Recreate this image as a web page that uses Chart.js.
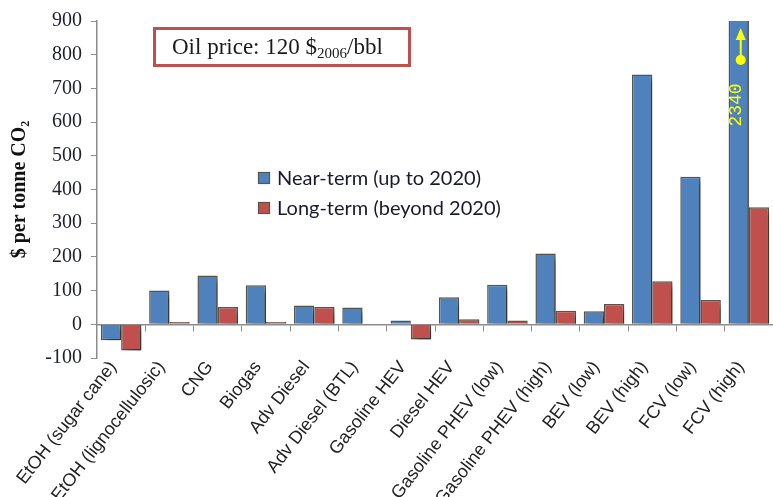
<!DOCTYPE html>
<html>
<head>
<meta charset="utf-8">
<script src="https://cdn.jsdelivr.net/npm/chart.js@4/dist/chart.umd.min.js"></script>
<style>
html,body{margin:0;padding:0;background:#fff;}
#wrap{position:relative;width:773px;height:497px;}
</style>
</head>
<body>
<div id="wrap"><canvas id="c" width="773" height="497"></canvas></div>
<script>
const categories = ["EtOH (sugar cane)","EtOH (lignocellulosic)","CNG","Biogas","Adv Diesel","Adv Diesel (BTL)","Gasoline HEV","Diesel HEV","Gasoline PHEV (low)","Gasoline PHEV (high)","BEV (low)","BEV (high)","FCV (low)","FCV (high)"];
const nearTerm = [-47,100,145,116,56,50,11,80,117,210,39,741,438,2340];
const longTerm = [-78,7,51,7,51,-2,-45,15,11,40,60,128,72,347];
const seriesNames = ["Near-term (up to 2020)","Long-term (beyond 2020)"];
const yTicks = [-100,0,100,200,300,400,500,600,700,800,900];
const annotationText = ["Oil price: 120 $","2006","/bbl"];
const offScaleLabel = "2340";
const offScaleIndex = 13;

const BLUE = '#4F81BD', RED = '#C0504D', EDGE = '#56554a', AXIS = '#8c8c8c';

const shadowPlugin = {
  id: 'shadow',
  beforeDatasetsDraw(chart){
    const ctx = chart.ctx; ctx.save();
    ctx.shadowColor = 'rgba(0,0,0,0.38)';
    ctx.shadowOffsetX = 5; ctx.shadowOffsetY = 4; ctx.shadowBlur = 5;
  },
  afterDatasetsDraw(chart){ chart.ctx.restore(); }
};

const overlayPlugin = {
  id: 'overlay',
  afterDraw(chart){
    const ctx = chart.ctx;
    // legend
    ctx.save();
    ctx.font = '20px Lato';
    ctx.textBaseline = 'middle';
    chart.data.datasets.forEach((ds, i) => {
      const cy = 178 + i * 30;
      ctx.fillStyle = ds.backgroundColor;
      ctx.fillRect(258, cy - 6, 12, 12);
      ctx.strokeStyle = EDGE; ctx.lineWidth = 1.2;
      ctx.strokeRect(258.5, cy - 5.5, 11, 11);
      ctx.fillStyle = '#1a1a2e';
      ctx.fillText(ds.label, 277, cy + 1);
    });
    ctx.restore();

    // annotation box
    ctx.save();
    ctx.strokeStyle = RED; ctx.lineWidth = 3;
    ctx.strokeRect(154.5, 28.5, 255, 37);
    ctx.fillStyle = '#1a1a1a';
    ctx.textBaseline = 'alphabetic';
    let tx = 172;
    ctx.font = '23px "Liberation Serif"';
    ctx.fillText(annotationText[0], tx, 54); tx += ctx.measureText(annotationText[0]).width;
    ctx.font = '15px "Liberation Serif"';
    ctx.fillText(annotationText[1], tx, 58); tx += ctx.measureText(annotationText[1]).width;
    ctx.font = '23px "Liberation Serif"';
    ctx.fillText(annotationText[2], tx, 54);
    ctx.restore();

    // off-scale marker
    const meta = chart.getDatasetMeta(0);
    const bar = meta.data[offScaleIndex];
    const cx = bar.x + 2;
    ctx.save();
    ctx.fillStyle = '#FFFF00'; ctx.strokeStyle = '#FFFF00';
    ctx.beginPath(); ctx.arc(cx, 60, 5, 0, Math.PI * 2); ctx.fill();
    ctx.lineWidth = 2;
    ctx.beginPath(); ctx.moveTo(cx, 60); ctx.lineTo(cx, 38); ctx.stroke();
    ctx.beginPath(); ctx.moveTo(cx, 28); ctx.lineTo(cx - 5, 40); ctx.lineTo(cx + 5, 40); ctx.closePath(); ctx.fill();
    ctx.translate(cx - 4, 105);
    ctx.rotate(-Math.PI / 2);
    ctx.font = '18px "Liberation Mono"';
    ctx.textAlign = 'center'; ctx.textBaseline = 'middle';
    ctx.fillText(offScaleLabel, 0, 0);
    ctx.restore();
  }
};

new Chart(document.getElementById('c'), {
  type: 'bar',
  data: {
    labels: categories,
    datasets: [
      {label: seriesNames[0], data: nearTerm, backgroundColor: BLUE, borderColor: EDGE, borderWidth: 1.5, xAxisID: 'x', yAxisID: 'y'},
      {label: seriesNames[1], data: longTerm, backgroundColor: RED, borderColor: EDGE, borderWidth: 1.5, xAxisID: 'x', yAxisID: 'y'}
    ]
  },
  options: {
    responsive: false,
    animation: false,
    devicePixelRatio: 1,
    layout: {padding: {top: 14, right: 0, left: 0, bottom: 0}},
    datasets: {bar: {categoryPercentage: 0.84, barPercentage: 1.0}},
    plugins: {legend: {display: false}, tooltip: {enabled: false}},
    scales: {
      x: {
        type: 'category',
        position: 'bottom',
        grid: {display: false},
        border: {display: false},
        ticks: {minRotation: 52, maxRotation: 52, autoSkip: false, color: '#222', font: {family: '"Liberation Sans"', size: 18}, padding: -9, labelOffset: -8},
        afterFit(s){ s.height = 139; }
      },
      xz: {
        type: 'category',
        labels: categories,
        position: {y: 0},
        grid: {drawOnChartArea: false, offset: true, tickLength: 6, color: AXIS},
        border: {color: AXIS, width: 1.5},
        ticks: {display: false}
      },
      y: {
        min: -100, max: 900,
        afterBuildTicks(s){ s.ticks = yTicks.map(v => ({value: v})); },
        grid: {drawOnChartArea: false, tickLength: 6, color: AXIS},
        border: {color: AXIS, width: 1.5},
        ticks: {color: '#1e2030', font: {family: '"Liberation Serif"', size: 20}, padding: 9},
        title: {display: true, text: '$ per tonne CO₂', font: {family: '"Liberation Serif"', size: 20, weight: 'bold'}, color: '#111', padding: {top: 8, bottom: 0}},
        afterFit(s){ s.width = 97; }
      }
    }
  },
  plugins: [shadowPlugin, overlayPlugin]
});
</script>
</body>
</html>
